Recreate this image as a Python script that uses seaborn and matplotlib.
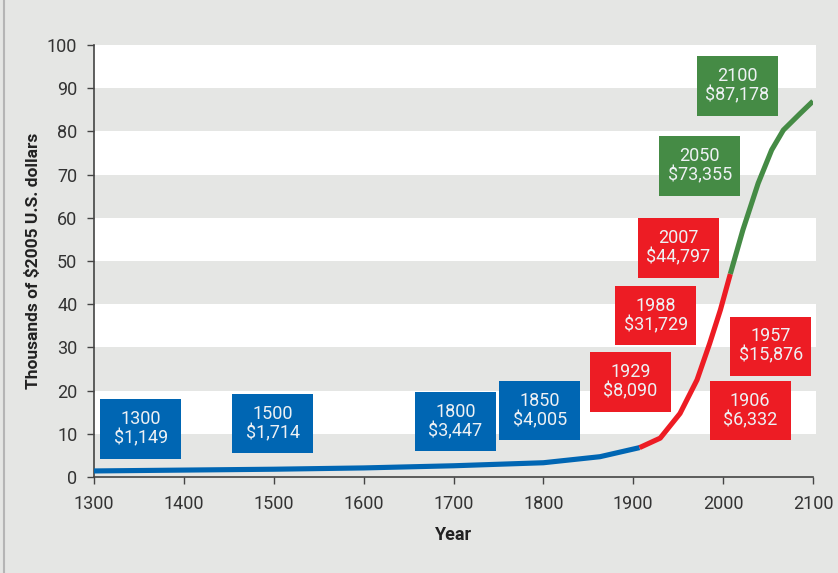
import matplotlib
matplotlib.use("Agg")
import matplotlib.pyplot as plt
import seaborn as sns
import pandas as pd
from matplotlib.patches import Rectangle
from matplotlib.lines import Line2D

# ---- data (curve) ----
years_blue = [1300, 1500, 1600, 1700, 1800, 1863, 1907]
gdp_blue = [1.4, 1.8, 2.1, 2.6, 3.3, 4.7, 6.8]
years_red = [1907, 1930, 1952, 1971, 1985, 1997, 2008]
gdp_red = [6.8, 9.0, 14.7, 22.5, 30.9, 38.7, 47.0]
years_green = [2008, 2022, 2039, 2054, 2067, 2086, 2100]
gdp_green = [47.0, 57.2, 68.0, 75.7, 80.3, 84.2, 87.0]

label_years = ["1300", "1500", "1800", "1850", "1929", "1988", "2007", "2050", "2100", "1957", "1906"]
label_values = ["$1,149", "$1,714", "$3,447", "$4,005", "$8,090", "$31,729", "$44,797",
                "$73,355", "$87,178", "$15,876", "$6,332"]
label_groups = ["blue", "blue", "blue", "blue", "red", "red", "red", "green", "green", "red", "red"]

# label box centres (annotation placement)
label_x = [1352, 1499, 1702, 1796, 1897, 1925, 1950, 1974, 2016, 2053, 2030]
label_y = [11.1, 12.3, 12.8, 15.3, 22.0, 37.3, 53.0, 72.0, 90.5, 30.3, 15.3]

x_ticks = [1300, 1400, 1500, 1600, 1700, 1800, 1900, 2000, 2100]
y_ticks = [0, 10, 20, 30, 40, 50, 60, 70, 80, 90, 100]

colors = {"blue": "#0066b3", "red": "#ed1c24", "green": "#458b45"}
BG = "#e5e6e4"

sns.set_theme(style="white")
plt.rcParams["font.family"] = ["Roboto", "DejaVu Sans"]

fig = plt.figure(figsize=(8.38, 5.73), dpi=100, facecolor=BG)
ax = fig.add_axes([94 / 838, (573 - 477) / 573, (813 - 94) / 838, (477 - 45) / 573])
ax.set_facecolor(BG)

# bands
for lo in range(0, 100, 10):
    c = "white" if (lo // 10) % 2 == 1 else BG
    ax.axhspan(lo, lo + 10, xmin=0, xmax=1.0045, color=c, zorder=0, lw=0, clip_on=False)

df = pd.concat([
    pd.DataFrame({"year": years_blue, "gdp": gdp_blue, "seg": "blue"}),
    pd.DataFrame({"year": years_red, "gdp": gdp_red, "seg": "red"}),
    pd.DataFrame({"year": years_green, "gdp": gdp_green, "seg": "green"}),
])
sns.lineplot(data=df, x="year", y="gdp", hue="seg", palette=colors, lw=3.7,
             legend=False, ax=ax, zorder=3, sort=True, estimator=None)
for l in ax.lines:
    l.set_solid_capstyle("butt")
    l.set_solid_joinstyle("round")

box_w, box_h = 90, 13.7
for yr, val, grp, cx, cy in zip(label_years, label_values, label_groups, label_x, label_y):
    ax.add_patch(Rectangle((cx - box_w / 2, cy - box_h / 2), box_w, box_h,
                           facecolor=colors[grp], edgecolor="none", zorder=4))
    ax.text(cx, cy, f"{yr}\n{val}", ha="center", va="center", color="#eef1f4",
            fontsize=13, fontweight="normal", linespacing=1.08, zorder=5)

ax.set_xlim(1300, 2100)
ax.set_ylim(0, 100)
ax.set_xticks(x_ticks)
ax.set_yticks(y_ticks)
ax.tick_params(axis="both", which="major", direction="out", length=5, width=1,
               color="#444444", labelcolor="#333333", labelsize=13, left=True, bottom=True)
ax.tick_params(axis="x", pad=8)
ax.tick_params(axis="y", pad=7)
for s in ["top", "right"]:
    ax.spines[s].set_visible(False)
for s in ["left", "bottom"]:
    ax.spines[s].set_color("#444444")
    ax.spines[s].set_linewidth(1.2)
ax.set_xlabel("Year", fontsize=13, fontweight="bold", color="#222222", labelpad=9)
ax.set_ylabel("Thousands of $2005 U.S. dollars", fontsize=12.5, fontweight="bold",
              color="#222222", labelpad=4)
ax.grid(False)

fig.add_artist(Line2D([3.5 / 838, 3.5 / 838], [0, 1], color="#b5b5b5", lw=1.5))

fig.savefig("out.png", dpi=100, facecolor=BG)
